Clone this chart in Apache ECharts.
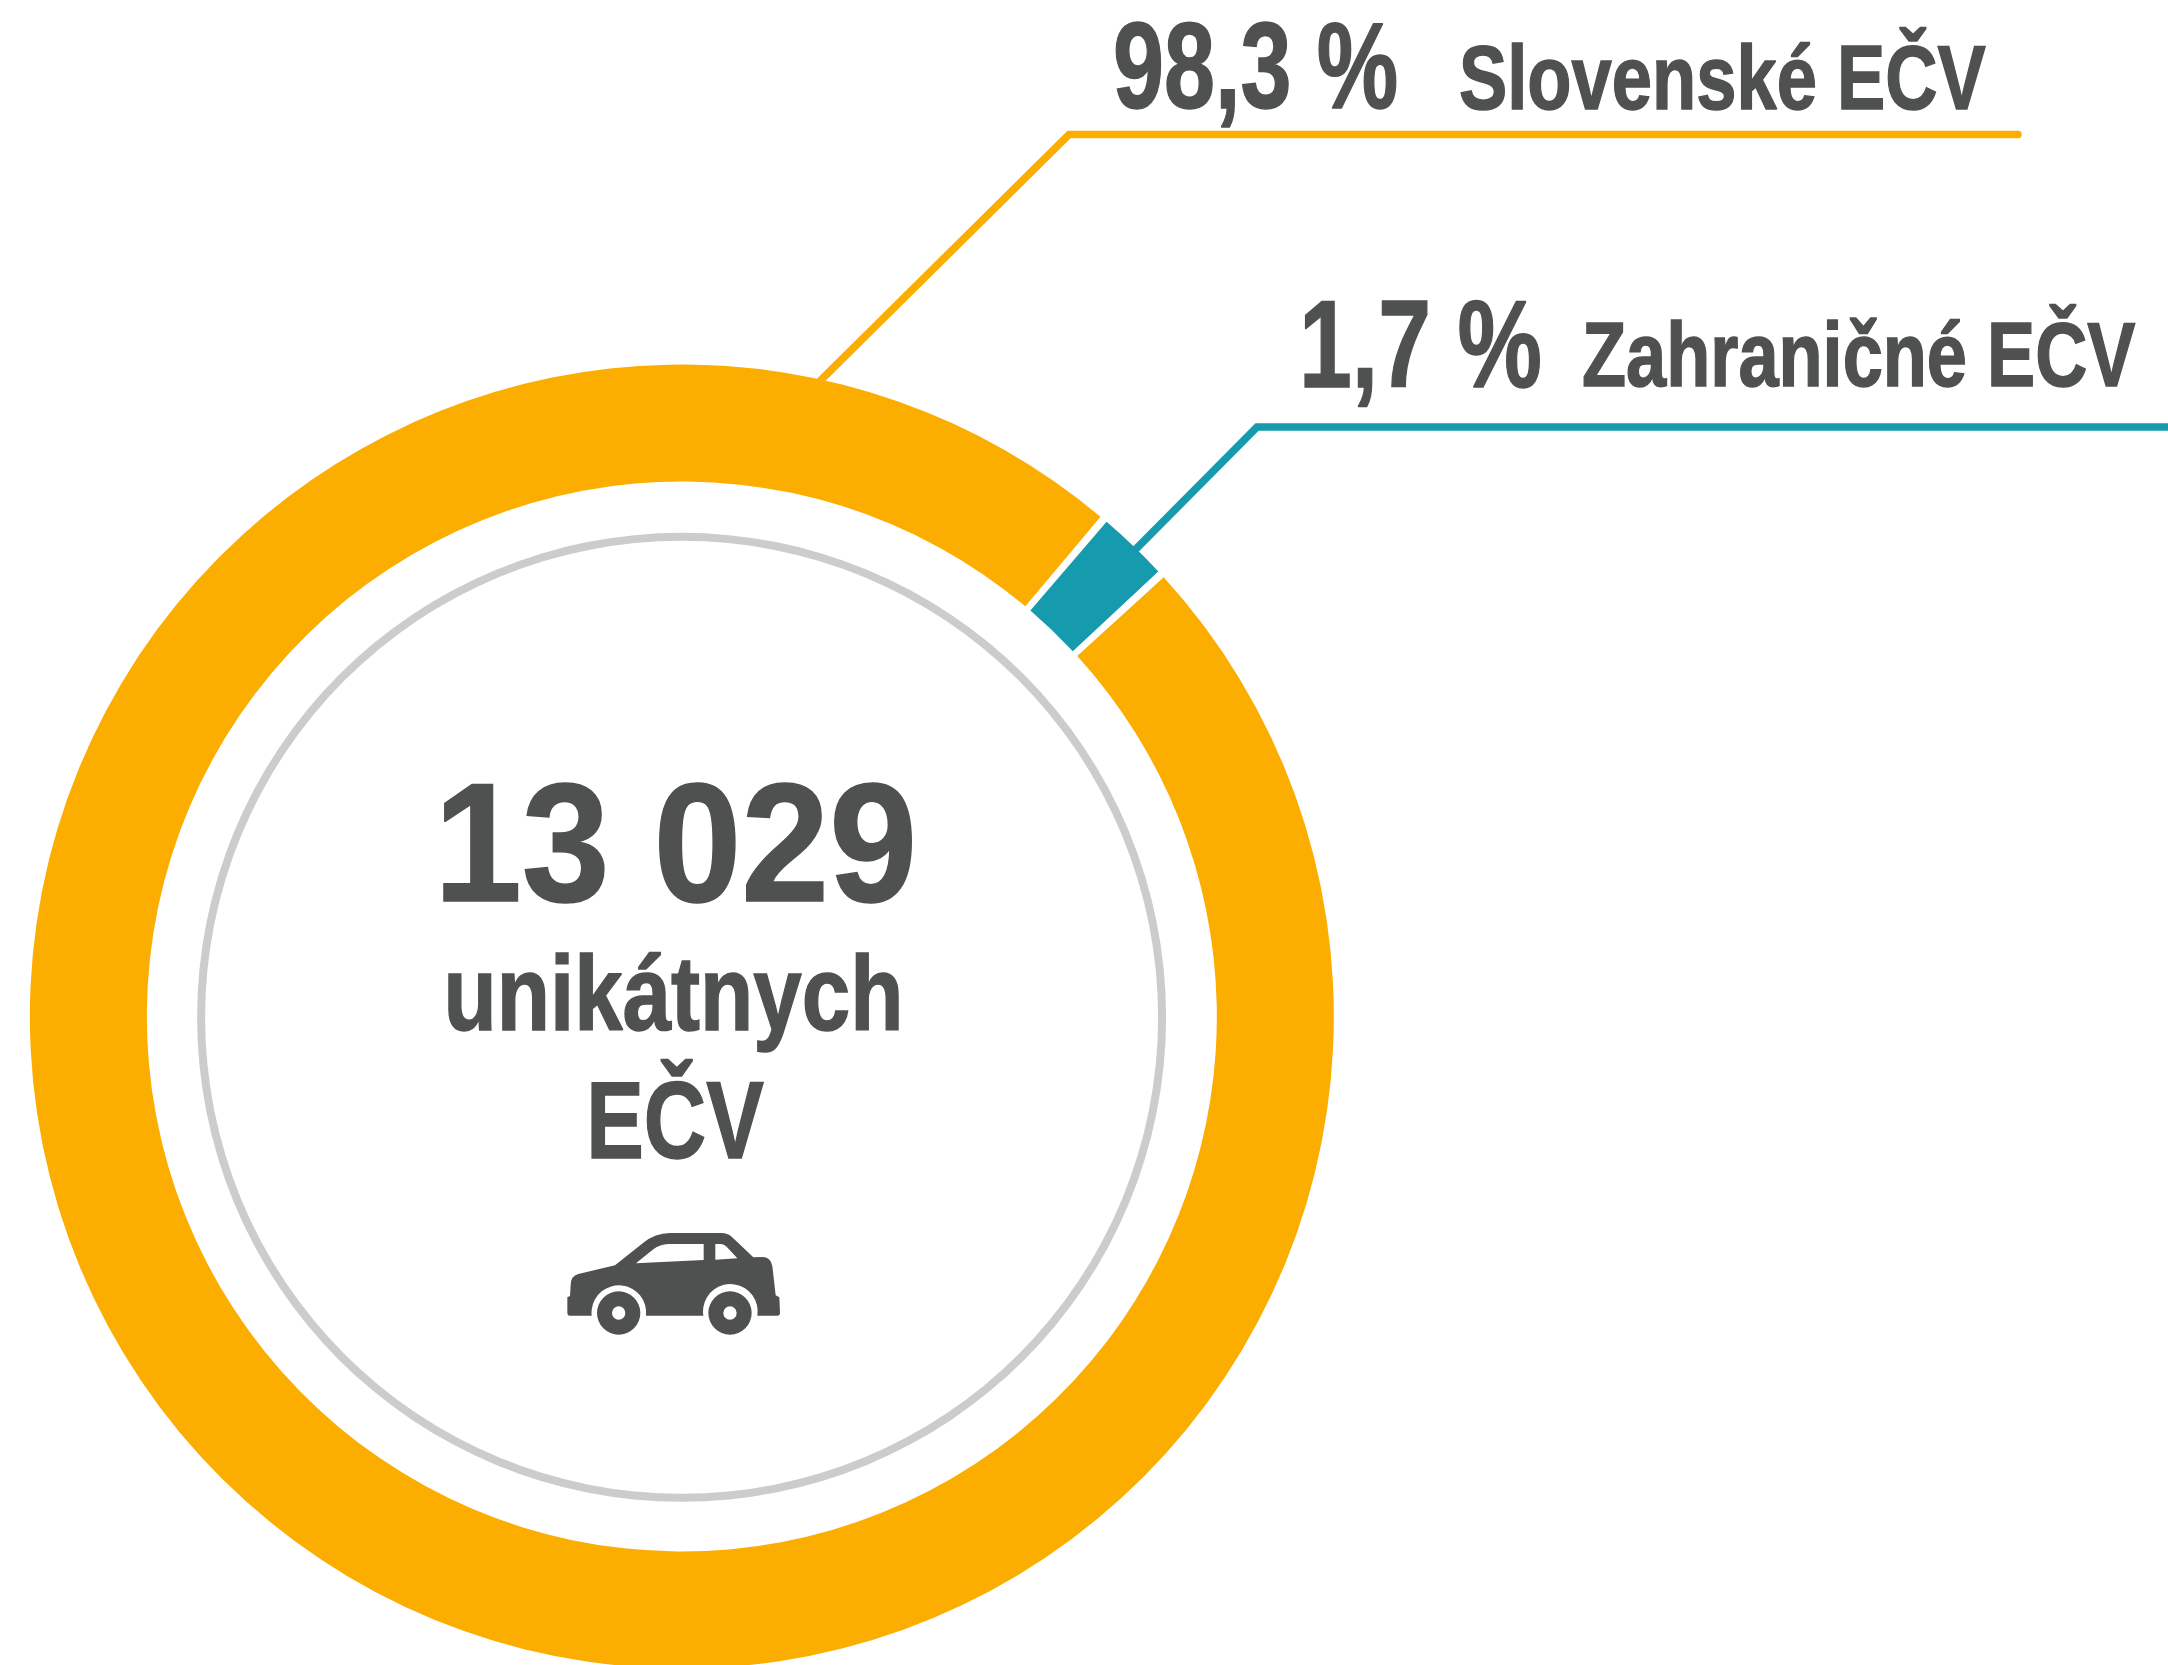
<!DOCTYPE html>
<html>
<head>
<meta charset="utf-8">
<style>html,body{margin:0;padding:0;background:#fff}#c{width:2168px;height:1665px}</style>
<script src="https://cdn.jsdelivr.net/npm/echarts@6/dist/echarts.min.js"></script>
</head>
<body>
<div id="c"></div>
<script>
const categories = ['Slovenské EČV', 'Zahraničné EČV'];
const shares = [98.3, 1.7];
const totalLabel = '13 029';
const centerLines = ['unikátnych', 'EČV'];

const ORANGE = '#FBAE00', TEAL = '#159BAD', INK = '#4F5150', GREY = '#CCCCCC';
const FONT = '"Liberation Sans", Arial, sans-serif';
const fmt = v => v.toFixed(1).replace('.', ',') + ' %';

function txt(content, x, base, size, sx, anchor) {
  return { type: 'text', x, y: base - 0.77 * size, scaleX: sx, silent: true,
    style: { text: content, x: 0, y: 0, fill: INK, stroke: INK, lineWidth: 1.5,
      font: 'bold ' + size + 'px ' + FONT, textAlign: anchor || 'left' } };
}
const carBody = 'M90 318 L92 285 Q92 258 115 252 L225 226 L310 158 Q345 130 390 129 L545 129 Q562 129 575 140 L640 202 L670 201 Q692 203 697 228 L707 316 L718 322 L720 368 Q720 377 712 377 L652 377 A82 82 0 1 0 490 377 L318 377 A82 82 0 1 0 155 377 L90 377 Q82 377 82 368 L82 322 Z '
 + 'M288 220 L491 210 L491 162 L385 162 Q360 163 340 178 Z '
 + 'M526 209 L592 205 L560 170 Q552 162 543 162 L526 162 Z '
 + 'M171 369 A65 65 0 1 1 301 369 A65 65 0 1 1 171 369 Z M216 369 A20 20 0 1 0 256 369 A20 20 0 1 0 216 369 Z '
 + 'M505 369 A65 65 0 1 1 635 369 A65 65 0 1 1 505 369 Z M550 369 A20 20 0 1 0 590 369 A20 20 0 1 0 550 369 Z';
echarts.graphic.registerShape('carIcon', echarts.graphic.extendPath(carBody, {}));

const chart = echarts.init(document.getElementById('c'), null, { renderer: 'canvas' });
chart.setOption({
  animation: false,
  backgroundColor: '#ffffff',
  series: [{
    type: 'pie', silent: true,
    center: [681.85, 1016.5], radius: [535, 652],
    startAngle: 42.7, clockwise: true, padAngle: 0.7, minAngle: 6.3,
    label: { show: false }, labelLine: { show: false },
    data: [
      { name: categories[0], value: shares[0], itemStyle: { color: ORANGE } },
      { name: categories[1], value: shares[1], itemStyle: { color: TEAL } }
    ]
  }],
  graphic: [
    { type: 'ring', silent: true, shape: { cx: 681.6, cy: 1017.3, r: 484.5, r0: 476.5 }, style: { fill: GREY } },
    { type: 'polyline', silent: true, shape: { points: [[820, 381], [1069, 134.5], [2018, 134.5]] },
      style: { stroke: ORANGE, lineWidth: 7.5, fill: null, lineCap: 'round', lineJoin: 'miter' } },
    { type: 'polyline', silent: true, shape: { points: [[1130, 555], [1257, 427], [2168, 427]] },
      style: { stroke: TEAL, lineWidth: 7.5, fill: null, lineJoin: 'miter' } },
    txt(fmt(shares[0]), 1113, 107.5, 123, 0.745),
    txt(categories[0], 1459, 108.5, 91, 0.795),
    txt(fmt(shares[1]), 1299, 386, 124, 0.766),
    txt(categories[1], 1582, 385.5, 91, 0.793),
    txt(totalLabel, 675.5, 900.5, 168, 0.94, 'center'),
    txt(centerLines[0], 673.5, 1029, 105, 0.83, 'center'),
    txt(centerLines[1], 675, 1157, 110, 0.785, 'center'),
    { type: 'carIcon', silent: true, x: 540, y: 1190, scaleX: 1/3, scaleY: 1/3, style: { fill: INK } }
  ]
});
</script>
</body>
</html>
